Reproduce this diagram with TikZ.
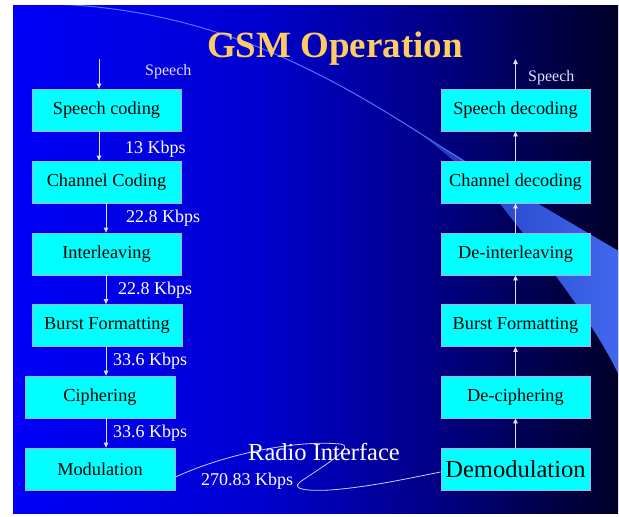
\documentclass[tikz,border=0pt]{standalone}
\usepackage{fontspec}
\setmainfont{Liberation Serif}
\usetikzlibrary{arrows.meta}
\definecolor{boxline}{RGB}{175,175,230}
\definecolor{boxfill}{RGB}{0,255,255}
\definecolor{arrowc}{RGB}{225,225,255}
\definecolor{speechc}{RGB}{225,225,255}
\definecolor{titlec}{RGB}{255,204,100}
\definecolor{wedgeA}{RGB}{30,55,185}
\definecolor{wedgeB}{RGB}{65,105,240}
\definecolor{swoosh}{RGB}{85,115,255}
\definecolor{curvec}{RGB}{205,205,255}
\pgfdeclarehorizontalshading{slidebg}{100bp}{rgb(0bp)=(0,0,0.97); rgb(25bp)=(0,0,0.97); rgb(45bp)=(0,0,0.82); rgb(60bp)=(0,0,0.52); rgb(67.5bp)=(0,0,0.33); rgb(75bp)=(0,0,0.15); rgb(100bp)=(0,0,0.15)}
\begin{document}
\begin{tikzpicture}[x=1pt,y=-1pt,
  blk/.style={draw=boxline, line width=0.8pt, fill=boxfill, minimum width=149pt, minimum height=42pt, inner sep=0pt, font=\fontsize{18.3}{20}\selectfont, text=black},
  arr/.style={draw=arrowc, line width=0.8pt, -{Triangle[length=5pt,width=4.5pt]}},
  rate/.style={font=\fontsize{18}{20}\selectfont, text=white, anchor=west, inner sep=0pt},
  speechlbl/.style={font=\fontsize{16}{18}\selectfont, text=speechc, anchor=west, inner sep=0pt}]
\useasboundingbox (0,0) rectangle (619,517);
\fill[white] (0,0) rectangle (619,517);
\shade[shading=slidebg] (13,5) rectangle (618,513);
\begin{scope}
  \clip (13,5) rectangle (618,513);
  \shade[left color=wedgeA, right color=wedgeB] (423,136) -- (622,253) -- (622,382)
     .. controls (597,325) and (540,255) .. (501,205)
     .. controls (475,178) and (448,155) .. (423,136) -- cycle;
  \draw[swoosh, line width=1pt] (52,4) .. controls (250,10) and (380,110) .. (464,161);
\end{scope}
% title
\node[anchor=base, font=\fontsize{37}{40}\selectfont\bfseries, text=titlec, inner sep=0pt] (title) at (335,57) {GSM Operation};
% left column
\node[blk] (L1) at (106.5,110) {Speech coding};
\node[blk] (L2) at (106.5,182) {Channel Coding};
\node[blk] (L3) at (106.5,254) {Interleaving};
\node[blk, minimum width=150pt] (L4) at (107,325.5) {Burst Formatting};
\node[blk, minimum width=150pt] (L5) at (100,397) {Ciphering};
\node[blk, minimum width=150pt] (L6) at (100,469) {Modulation};
% right column
\node[blk] (R1) at (515.5,110) {Speech decoding};
\node[blk] (R2) at (515.5,182) {Channel decoding};
\node[blk] (R3) at (515.5,254) {De-interleaving};
\node[blk] (R4) at (515.5,325.5) {Burst Formatting};
\node[blk] (R5) at (515.5,397) {De-ciphering};
\node[blk, font=\fontsize{24.5}{26}\selectfont] (R6) at (515.5,469) {Demodulation};
% left arrows
\coordinate (inS) at (99,59);
\coordinate (colA) at (106,0);
\draw[arr] (inS) -- (L1.north -| inS);
\draw[arr] (L1.south -| inS) -- (L2.north -| inS);
\draw[arr] (L2.south -| colA) -- (L3.north -| colA);
\draw[arr] (L3.south -| colA) -- (L4.north -| colA);
\draw[arr] (L4.south -| colA) -- (L5.north -| colA);
\draw[arr] (L5.south -| colA) -- (L6.north -| colA);
% right arrows
\coordinate (outS) at (515.5,59);
\draw[arr] (R6.north) -- (R5.south);
\draw[arr] (R5.north) -- (R4.south);
\draw[arr] (R4.north) -- (R3.south);
\draw[arr] (R3.north) -- (R2.south);
\draw[arr] (R2.north) -- (R1.south);
\draw[arr] (R1.north) -- (outS);
% radio link
\draw[curvec, line width=0.8pt] (L6.east |- 0,477) .. controls (230,452) and (300,440) .. (340,444)
   .. controls (358,446) and (320,468) .. (300,482)
   .. controls (290,490) and (310,491) .. (330,490)
   .. controls (370,487) and (410,478) .. (R6.west |- 0,472);
% labels
\node[speechlbl] (sp1) at (145,72) {Speech};
\node[speechlbl] (sp2) at (528,78) {Speech};
\node[rate] (r1) at (125,149) {13 Kbps};
\node[rate] (r2) at (126,218) {22.8 Kbps};
\node[rate] (r3) at (118,290) {22.8 Kbps};
\node[rate] (r4) at (113,361) {33.6 Kbps};
\node[rate] (r5) at (113,433) {33.6 Kbps};
\node[rate] (r6) at (201,481) {270.83 Kbps};
\node[font=\fontsize{24.5}{26}\selectfont, text=white, inner sep=0pt] (ri) at (324,452) {Radio Interface};
\end{tikzpicture}
\end{document}
